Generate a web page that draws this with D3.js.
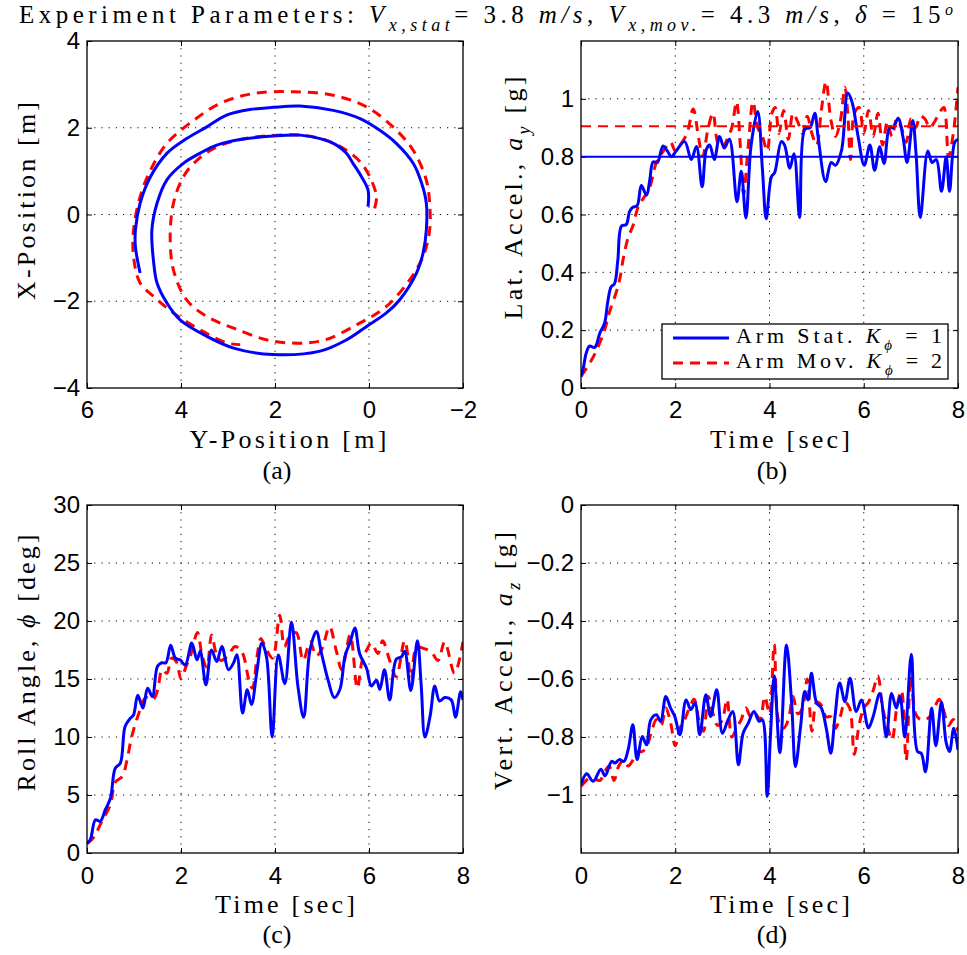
<!DOCTYPE html>
<html>
<head>
<meta charset="utf-8">
<script src="https://cdn.jsdelivr.net/npm/d3@7"></script>
<style>
  body { margin: 0; background: #fff; }
  svg { display: block; }
  .tick text { font-family: "Liberation Sans", Arial, sans-serif; font-size: 24px; fill: #000; }
</style>
</head>
<body>
<script>
// PAGE SIZE
const width = 967;
const height = 955;
const blue = '#0000ff';
const red = '#ff0000';
const serif = '"Liberation Serif", "DejaVu Serif", "Times New Roman", serif';

// TICK VALUES
const timeTicks = [0, 2, 4, 6, 8];
const yPosTicks = [6, 4, 2, 0, -2];
const xPosTicks = [-4, -2, 0, 2, 4];
const latTicks = [0, 0.2, 0.4, 0.6, 0.8, 1];
const rollTicks = [0, 5, 10, 15, 20, 25, 30];
const vertTicks = [0, -0.2, -0.4, -0.6, -0.8, -1];

// reference levels in (b)
const latRefStat = 0.8;
const latRefMov = 0.905;

// (a) trajectories, [Y-position, X-position] in m
const trajStat = [[0.02,0.18],[0.02,0.56],[0.16,0.87],[0.34,1.18],[0.48,1.41],[0.69,1.6],[1.04,1.75],[1.47,1.83],[2.04,1.81],[2.74,1.73],[3.24,1.6],[3.6,1.41],[3.95,1.18],[4.3,0.8],[4.51,0.26],[4.62,-0.36],[4.58,-1.12],[4.51,-1.58],[4.3,-2.04],[4.02,-2.43],[3.45,-2.81],[2.88,-3.08],[2.04,-3.23],[1.04,-3.15],[0.48,-2.89],[0.05,-2.58],[-0.37,-2.27],[-0.65,-1.97],[-1.01,-1.35],[-1.15,-0.89],[-1.22,-0.36],[-1.22,0.26],[-1.12,0.72],[-0.94,1.18],[-0.58,1.64],[-0.23,1.94],[0.19,2.21],[0.76,2.4],[1.47,2.5],[2.04,2.47],[2.53,2.42],[3.03,2.29],[3.45,2.02],[3.88,1.75],[4.3,1.41],[4.65,0.87],[4.87,0.26],[4.97,-0.36],[4.97,-0.74],[4.87,-1.35]];
const trajMov = [[-0.12,0.14],[-0.16,0.41],[-0.05,0.79],[0.16,1.18],[0.48,1.48],[0.9,1.71],[1.47,1.83],[2.18,1.81],[2.74,1.73],[3.24,1.56],[3.66,1.25],[3.95,0.87],[4.16,0.26],[4.23,-0.51],[4.16,-1.28],[3.88,-1.97],[3.45,-2.35],[2.88,-2.62],[2.04,-2.92],[1.04,-2.92],[0.19,-2.5],[-0.37,-2.12],[-0.87,-1.5],[-1.15,-0.97],[-1.29,-0.36],[-1.29,0.26],[-1.22,0.79],[-0.94,1.48],[-0.51,2.02],[0.05,2.48],[0.76,2.75],[1.61,2.83],[2.46,2.79],[3.17,2.56],[3.73,2.17],[4.3,1.64],[4.65,1.02],[4.87,0.41],[5.01,-0.36],[5.01,-0.97],[4.87,-1.58],[4.58,-1.89],[4.16,-2.27],[3.59,-2.66],[3.03,-2.96],[2.74,-3.0]];

// (b) lateral acceleration, [time s, g]
const latStat = [[0,0.04],[0.05,0.07],[0.11,0.12],[0.18,0.145],[0.29,0.14],[0.4,0.19],[0.5,0.224],[0.57,0.3],[0.64,0.35],[0.71,0.36],[0.78,0.44],[0.86,0.56],[0.96,0.565],[1.03,0.61],[1.1,0.625],[1.19,0.63],[1.28,0.7],[1.39,0.667],[1.46,0.72],[1.53,0.782],[1.62,0.78],[1.74,0.837],[1.83,0.82],[1.92,0.8],[2.02,0.82],[2.2,0.852],[2.34,0.79],[2.45,0.835],[2.57,0.696],[2.66,0.825],[2.73,0.84],[2.83,0.79],[2.94,0.87],[3.04,0.83],[3.15,0.86],[3.31,0.644],[3.4,0.75],[3.5,0.588],[3.61,0.84],[3.75,0.956],[3.85,0.755],[3.93,0.585],[4.04,0.73],[4.11,0.745],[4.25,0.852],[4.32,0.84],[4.43,0.76],[4.52,0.81],[4.64,0.59],[4.75,0.895],[4.86,0.9],[4.96,0.95],[5.03,0.87],[5.19,0.714],[5.31,0.78],[5.4,0.77],[5.53,0.823],[5.66,1.02],[5.75,0.99],[5.88,0.87],[6.01,0.77],[6.13,0.84],[6.23,0.753],[6.34,0.834],[6.43,0.776],[6.55,0.904],[6.62,0.9],[6.73,0.933],[6.83,0.87],[6.92,0.78],[7.04,0.925],[7.11,0.81],[7.2,0.59],[7.36,0.82],[7.45,0.78],[7.54,0.79],[7.65,0.68],[7.75,0.8],[7.82,0.68],[7.93,0.85],[8,0.86]];
const latMov = [[0,0.04],[0.2,0.09],[0.3,0.12],[0.5,0.2],[0.6,0.26],[0.8,0.36],[0.9,0.45],[1.0,0.52],[1.1,0.56],[1.2,0.62],[1.3,0.65],[1.45,0.69],[1.6,0.78],[1.75,0.82],[1.9,0.85],[2.0,0.82],[2.1,0.84],[2.25,0.88],[2.38,0.965],[2.5,0.86],[2.58,0.8],[2.7,0.9],[2.8,0.95],[2.9,0.85],[3.0,0.83],[3.1,0.86],[3.2,0.9],[3.3,0.99],[3.38,0.84],[3.45,0.67],[3.55,0.84],[3.65,0.99],[3.75,0.9],[3.85,0.87],[3.95,0.82],[4.05,0.95],[4.12,0.97],[4.2,0.88],[4.3,0.96],[4.4,0.86],[4.5,0.95],[4.6,0.92],[4.7,0.88],[4.8,0.94],[4.9,0.88],[5.0,0.84],[5.1,0.96],[5.2,1.06],[5.3,0.93],[5.4,0.87],[5.5,0.92],[5.6,1.04],[5.66,0.95],[5.72,0.79],[5.8,0.95],[5.9,0.97],[6.0,0.88],[6.1,0.96],[6.2,0.87],[6.3,0.95],[6.4,0.84],[6.5,0.92],[6.6,0.87],[6.7,0.93],[6.8,0.9],[6.9,0.85],[7.0,0.93],[7.1,0.9],[7.2,0.94],[7.3,0.93],[7.4,0.9],[7.5,0.92],[7.6,0.95],[7.7,0.97],[7.8,0.8],[7.9,0.88],[8.0,1.04]];

// (c) roll angle, [time s, deg]
const rollStat = [[0,0.86],[0.07,1.15],[0.18,2.87],[0.28,2.73],[0.39,3.73],[0.5,4.74],[0.6,7.3],[0.71,7.75],[0.81,10.9],[0.92,11.6],[0.99,11.9],[1.08,13.6],[1.19,12.5],[1.29,14.2],[1.39,13.5],[1.5,16.1],[1.59,16.4],[1.68,16.4],[1.78,17.9],[1.88,16.8],[1.98,16.65],[2.09,16.2],[2.23,18.1],[2.34,16.65],[2.41,17.4],[2.53,14.5],[2.65,17.5],[2.76,16.5],[2.87,17.8],[3.01,15.8],[3.12,16.4],[3.19,17.1],[3.31,12.06],[3.41,14.07],[3.5,12.8],[3.61,15.5],[3.72,18.1],[3.82,16.9],[3.94,10.0],[4.07,17.06],[4.21,14.6],[4.35,19.9],[4.49,14.3],[4.61,11.7],[4.74,17.4],[4.88,19.1],[4.99,17.2],[5.13,14.9],[5.26,13.4],[5.38,14.1],[5.49,17.0],[5.6,18.2],[5.7,19.4],[5.8,17.2],[5.95,15.9],[6.05,14.4],[6.16,14.9],[6.23,14.1],[6.33,15.8],[6.44,13.2],[6.58,16.7],[6.69,16.9],[6.76,17.4],[6.89,14.0],[7.03,18.3],[7.11,14.5],[7.19,10.0],[7.3,11.8],[7.4,14.4],[7.5,13.1],[7.61,13.4],[7.75,13.2],[7.84,11.7],[7.95,13.9],[8,13.2]];
const rollMov = [[0,0.8],[0.15,1.4],[0.3,2.6],[0.5,4.2],[0.6,6.1],[0.75,6.6],[0.85,8.0],[0.95,10.0],[1.1,12.0],[1.25,13.4],[1.4,13.2],[1.5,14.0],[1.6,15.8],[1.7,15.5],[1.8,16.8],[1.9,16.5],[2.0,15.0],[2.1,16.0],[2.2,17.0],[2.35,19.0],[2.45,17.0],[2.55,16.0],[2.65,18.8],[2.75,17.2],[2.85,16.6],[3.0,17.0],[3.15,17.8],[3.3,17.3],[3.45,14.8],[3.52,14.2],[3.62,17.0],[3.7,18.5],[3.82,17.5],[3.95,16.8],[4.1,20.5],[4.2,17.8],[4.3,18.6],[4.45,19.0],[4.6,16.6],[4.75,18.2],[4.88,17.0],[5.0,17.6],[5.16,19.5],[5.3,17.5],[5.42,15.8],[5.6,18.8],[5.75,14.2],[5.85,16.5],[5.95,17.5],[6.05,18.1],[6.19,17.2],[6.29,18.3],[6.44,16.6],[6.58,15.2],[6.76,18.3],[6.9,15.0],[7.01,17.7],[7.19,17.6],[7.33,17.3],[7.47,16.6],[7.61,18.2],[7.82,15.5],[8.0,18.2]];

// (d) vertical acceleration, [time s, g]
const vertStat = [[0,-0.965],[0.12,-0.927],[0.26,-0.953],[0.42,-0.911],[0.51,-0.934],[0.65,-0.884],[0.72,-0.89],[0.81,-0.878],[0.91,-0.884],[1.0,-0.844],[1.1,-0.758],[1.19,-0.878],[1.3,-0.798],[1.39,-0.827],[1.48,-0.741],[1.6,-0.723],[1.69,-0.746],[1.8,-0.66],[1.9,-0.7],[1.99,-0.729],[2.1,-0.792],[2.23,-0.672],[2.33,-0.706],[2.42,-0.683],[2.52,-0.792],[2.65,-0.654],[2.75,-0.729],[2.88,-0.637],[3.0,-0.787],[3.12,-0.741],[3.22,-0.712],[3.34,-0.896],[3.44,-0.787],[3.55,-0.752],[3.67,-0.712],[3.78,-0.746],[3.85,-0.741],[3.95,-1.005],[4.02,-0.798],[4.1,-0.59],[4.22,-0.854],[4.36,-0.483],[4.47,-0.683],[4.55,-0.902],[4.66,-0.764],[4.75,-0.643],[4.82,-0.672],[4.89,-0.58],[5.0,-0.683],[5.1,-0.7],[5.21,-0.775],[5.3,-0.856],[5.39,-0.729],[5.49,-0.614],[5.6,-0.678],[5.71,-0.597],[5.84,-0.712],[5.95,-0.672],[6.1,-0.769],[6.2,-0.729],[6.34,-0.65],[6.48,-0.8],[6.59,-0.65],[6.69,-0.7],[6.77,-0.66],[6.87,-0.8],[7.01,-0.515],[7.14,-0.85],[7.22,-0.856],[7.31,-0.92],[7.44,-0.7],[7.53,-0.83],[7.65,-0.68],[7.75,-0.82],[7.82,-0.85],[7.91,-0.77],[8,-0.844]];
const vertMov = [[0,-0.97],[0.2,-0.94],[0.4,-0.95],[0.5,-0.92],[0.6,-0.9],[0.7,-0.95],[0.8,-0.9],[0.9,-0.88],[1.0,-0.9],[1.1,-0.88],[1.2,-0.85],[1.3,-0.85],[1.4,-0.83],[1.5,-0.78],[1.6,-0.74],[1.7,-0.76],[1.8,-0.7],[1.9,-0.75],[2.0,-0.83],[2.1,-0.77],[2.2,-0.74],[2.3,-0.7],[2.4,-0.67],[2.5,-0.74],[2.6,-0.78],[2.7,-0.66],[2.8,-0.72],[2.9,-0.76],[3.0,-0.74],[3.1,-0.67],[3.2,-0.8],[3.3,-0.77],[3.4,-0.74],[3.5,-0.7],[3.6,-0.73],[3.7,-0.72],[3.8,-0.74],[3.9,-0.66],[4.0,-0.72],[4.1,-0.48],[4.2,-0.75],[4.3,-0.77],[4.4,-0.74],[4.5,-0.66],[4.6,-0.72],[4.7,-0.7],[4.8,-0.6],[4.9,-0.78],[5.0,-0.68],[5.1,-0.69],[5.2,-0.73],[5.3,-0.73],[5.4,-0.77],[5.5,-0.73],[5.6,-0.68],[5.7,-0.7],[5.8,-0.86],[5.9,-0.76],[6.0,-0.7],[6.1,-0.68],[6.2,-0.64],[6.3,-0.59],[6.4,-0.7],[6.5,-0.76],[6.6,-0.81],[6.7,-0.7],[6.8,-0.64],[6.9,-0.88],[7.0,-0.59],[7.1,-0.72],[7.2,-0.74],[7.3,-0.74],[7.4,-0.73],[7.5,-0.7],[7.6,-0.67],[7.7,-0.71],[7.8,-0.76],[7.9,-0.74],[8.0,-0.78]];

// SVG
const svg = d3.select('body').append('svg')
  .attr('width', width)
  .attr('height', height);

const fmt = d3.format('~g');                                                    // 1 -> "1", -0.2 -> "−0.2"

// write text made of roman / italic / sub / superscript pieces
function mathText(sel, parts, fs) {
  let shift = 0;
  parts.forEach(p => {
    const ts = sel.append('tspan').text(p.t);
    const target = p.sub ? Math.round(fs * 0.3) : p.sup ? -Math.round(fs * 0.32) : 0;
    if (target !== shift) { ts.attr('dy', target - shift); shift = target; }
    if (p.i) ts.attr('font-style', 'italic');
    if (p.sub) ts.attr('font-size', Math.round(fs * 0.7));
    if (p.sup) ts.attr('font-size', Math.round(fs * 0.62));
  });
}

function label(parts, o) {
  const t = svg.append('text')
    .attr('font-family', serif)
    .attr('fill', '#000')
    .attr('font-size', o.fs)
    .attr('text-anchor', o.anchor || 'middle');
  if (o.rotate) t.attr('transform', `translate(${o.x},${o.y}) rotate(-90)`);
  else t.attr('x', o.x).attr('y', o.y);
  mathText(t, parts, o.fs);
  if (o.len) t.attr('textLength', o.len).attr('lengthAdjust', 'spacing');
  return t;
}

let clipId = 0;
function panel(o) {
  const x = d3.scaleLinear().domain(o.xDomain).range([o.left, o.left + o.w]);
  const y = d3.scaleLinear().domain(o.yDomain).range([o.top + o.h, o.top]);
  const g = svg.append('g');

  // grid (dotted, interior ticks only)
  const inX = o.xTicks.filter(v => v !== o.xDomain[0] && v !== o.xDomain[1]);
  const inY = o.yTicks.filter(v => v !== o.yDomain[0] && v !== o.yDomain[1]);
  g.selectAll('.vg').data(inX).join('line')
    .attr('x1', d => x(d)).attr('x2', d => x(d))
    .attr('y1', o.top).attr('y2', o.top + o.h)
    .attr('stroke', '#000').attr('stroke-width', 1).attr('stroke-dasharray', '1.2,6');
  g.selectAll('.hg').data(inY).join('line')
    .attr('y1', d => y(d)).attr('y2', d => y(d))
    .attr('x1', o.left).attr('x2', o.left + o.w)
    .attr('stroke', '#000').attr('stroke-width', 1).attr('stroke-dasharray', '1.2,6');

  // axes, ticks pointing inward on all four sides
  g.append('g').attr('transform', `translate(0,${o.top + o.h})`)
    .call(d3.axisBottom(x).tickValues(o.xTicks).tickFormat(fmt).tickSize(-5).tickPadding(o.xPad));
  g.append('g').attr('transform', `translate(${o.left},0)`)
    .call(d3.axisLeft(y).tickValues(o.yTicks).tickFormat(fmt).tickSize(-5).tickPadding(7));
  g.append('g').attr('transform', `translate(0,${o.top})`)
    .call(d3.axisTop(x).tickValues(o.xTicks).tickFormat('').tickSize(-5));
  g.append('g').attr('transform', `translate(${o.left + o.w},0)`)
    .call(d3.axisRight(y).tickValues(o.yTicks).tickFormat('').tickSize(-5));
  g.selectAll('.domain').remove();
  g.selectAll('.tick line').attr('stroke', '#000').attr('stroke-width', 1);

  // clip for the data
  const id = 'clip' + (clipId++);
  svg.append('clipPath').attr('id', id).append('rect')
    .attr('x', o.left).attr('y', o.top).attr('width', o.w).attr('height', o.h);
  const plot = svg.append('g').attr('clip-path', `url(#${id})`);

  // frame drawn last
  const frame = () => svg.append('rect')
    .attr('x', o.left).attr('y', o.top).attr('width', o.w).attr('height', o.h)
    .attr('fill', 'none').attr('stroke', '#000').attr('stroke-width', 1.3);

  return { x, y, plot, frame };
}

function drawLine(p, data, color, dashed) {
  const line = d3.line()
    .x(d => p.x(d[0]))
    .y(d => p.y(d[1]))
    .curve(d3.curveCatmullRom.alpha(0.5));
  p.plot.append('path')
    .datum(data)
    .attr('d', line)
    .attr('fill', 'none')
    .attr('stroke', color)
    .attr('stroke-width', 3)
    .attr('stroke-dasharray', dashed ? '10,7' : null);
}

// (a) trajectory
const pa = panel({ left: 87, top: 41, w: 376, h: 347, xDomain: [6, -2], yDomain: [-4, 4],
  xTicks: yPosTicks, yTicks: xPosTicks, xPad: 13 });
drawLine(pa, trajMov, red, true);
drawLine(pa, trajStat, blue, false);
pa.frame();

// (b) lateral acceleration
const pb = panel({ left: 581, top: 41, w: 377, h: 347, xDomain: [0, 8], yDomain: [0, 1.2],
  xTicks: timeTicks, yTicks: latTicks, xPad: 13 });
drawLine(pb, latMov, red, true);
drawLine(pb, latStat, blue, false);
pb.plot.append('line')
  .attr('x1', pb.x(0)).attr('x2', pb.x(8)).attr('y1', pb.y(latRefStat)).attr('y2', pb.y(latRefStat))
  .attr('stroke', blue).attr('stroke-width', 2);
pb.plot.append('line')
  .attr('x1', pb.x(0)).attr('x2', pb.x(8)).attr('y1', pb.y(latRefMov)).attr('y2', pb.y(latRefMov))
  .attr('stroke', red).attr('stroke-width', 2).attr('stroke-dasharray', '10,7');
pb.frame();

// (c) roll angle
const pc = panel({ left: 87, top: 505, w: 376, h: 348, xDomain: [0, 8], yDomain: [0, 30],
  xTicks: timeTicks, yTicks: rollTicks, xPad: 14 });
drawLine(pc, rollMov, red, true);
drawLine(pc, rollStat, blue, false);
pc.frame();

// (d) vertical acceleration
const pd = panel({ left: 581, top: 505, w: 377, h: 348, xDomain: [0, 8], yDomain: [-1.2, 0],
  xTicks: timeTicks, yTicks: vertTicks, xPad: 14 });
drawLine(pd, vertMov, red, true);
drawLine(pd, vertStat, blue, false);
pd.frame();

// LEGEND in (b)
svg.append('rect').attr('x', 662).attr('y', 324).attr('width', 286).attr('height', 55)
  .attr('fill', '#fff').attr('stroke', '#000').attr('stroke-width', 1.3);
svg.append('line').attr('x1', 673).attr('x2', 729).attr('y1', 338).attr('y2', 338)
  .attr('stroke', blue).attr('stroke-width', 3);
svg.append('line').attr('x1', 673).attr('x2', 729).attr('y1', 363).attr('y2', 363)
  .attr('stroke', red).attr('stroke-width', 3).attr('stroke-dasharray', '10,7');
label([{ t: 'Arm Stat. ' }, { t: 'K', i: 1 }, { t: 'ϕ', i: 1, sub: 1 }, { t: ' = 1' }],
  { x: 736, y: 343, fs: 22, anchor: 'start', len: 206 });
label([{ t: 'Arm Mov. ' }, { t: 'K', i: 1 }, { t: 'ϕ', i: 1, sub: 1 }, { t: ' = 2' }],
  { x: 736, y: 368, fs: 22, anchor: 'start', len: 206 });

// TITLE
label([{ t: 'Experiment Parameters: ' }, { t: 'V', i: 1 }, { t: 'x,stat', i: 1, sub: 1 }, { t: '= 3.8 ' },
  { t: 'm/s', i: 1 }, { t: ', ' }, { t: 'V', i: 1 }, { t: 'x,mov.', i: 1, sub: 1 }, { t: '= 4.3 ' },
  { t: 'm/s', i: 1 }, { t: ', ' }, { t: 'δ', i: 1 }, { t: ' = 15' }, { t: 'o', i: 1, sup: 1 }],
  { x: 19, y: 23, fs: 25, anchor: 'start', len: 934 });

// AXIS LABELS
label([{ t: 'Y-Position [m]' }], { x: 288, y: 448, fs: 26, len: 197 });
label([{ t: 'X-Position [m]' }], { x: 35, y: 201, fs: 26, len: 198, rotate: true });
label([{ t: '(a)' }], { x: 277, y: 479, fs: 26 });

label([{ t: 'Time [sec]' }], { x: 780, y: 448, fs: 26, len: 140 });
label([{ t: 'Lat. Accel., ' }, { t: 'a', i: 1 }, { t: 'y', i: 1, sub: 1 }, { t: ' [g]' }],
  { x: 522, y: 198, fs: 26, len: 243, rotate: true });
label([{ t: '(b)' }], { x: 772, y: 479, fs: 26 });

label([{ t: 'Time [sec]' }], { x: 285, y: 913, fs: 26, len: 140 });
label([{ t: 'Roll Angle, ' }, { t: 'ϕ', i: 1 }, { t: ' [deg]' }],
  { x: 35, y: 663, fs: 26, len: 257, rotate: true });
label([{ t: '(c)' }], { x: 277, y: 943, fs: 26 });

label([{ t: 'Time [sec]' }], { x: 780, y: 913, fs: 26, len: 140 });
label([{ t: 'Vert. Accel., ' }, { t: 'a', i: 1 }, { t: 'z', i: 1, sub: 1 }, { t: ' [g]' }],
  { x: 512, y: 661, fs: 26, len: 258, rotate: true });
label([{ t: '(d)' }], { x: 772, y: 943, fs: 26 });
</script>
</body>
</html>
